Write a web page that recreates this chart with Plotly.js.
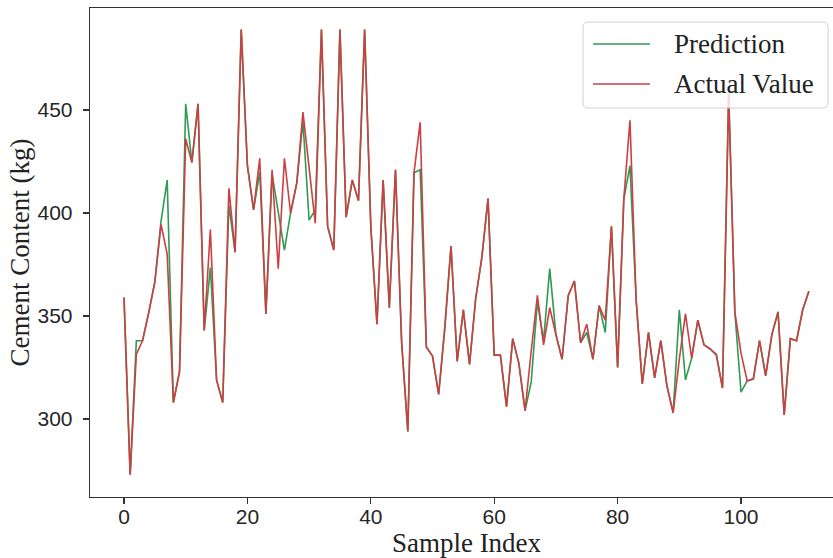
<!DOCTYPE html>
<html>
<head>
<meta charset="utf-8">
<script src="https://cdn.plot.ly/plotly-3.0.1.min.js"></script>
<style>
html,body{margin:0;padding:0;overflow:hidden;background:#fff;width:833px;height:558px;}
#chart{width:845px;height:558px;}
</style>
</head>
<body>
<div id="chart"></div>
<script>
const actualValue = [359,273,331.5,338,351.5,366.5,394.5,380,308,323,
  436,424.5,453,343,392,319,308,412,381,489,
  423,401.5,426.5,351,421,373,426.5,400,414.5,449,
  422,395,489,393.5,382,489,398,416,406,489,
  393.5,346,416,354,421,337,294,419.5,444,335,
  330.5,312,344.5,384,328,353,326.5,358.5,378.5,407,
  331,331,306,339,327,304,333,360,336,354,
  341,329,360,367,337,346,329,355,348,393.5,
  325,406.5,445,358,317,342,320,338,316,303,
  329,351,329.5,348,336,334,331,315,458,352,
  332,318.5,319.5,338,321,341,352,302,339,338,
  353,362];
const prediction = [359,273,338,338,351.5,366.5,396,416,308,323,
  453,424.5,453,343,373.5,319,308,404,381,489,
  423,401.5,420,351,419,401.5,382,400,414.5,444.5,
  396.5,401.5,489,393.5,382,489,398,416,406,489,
  393.5,346,416,354,421,337,294,419.5,421,335,
  330.5,312,344.5,384,328,353,326.5,358.5,378.5,407,
  331,331,306,339,327,304,318,357,338,373,
  341,329,360,367,337,342,329,355,342,393.5,
  325,406.5,423,358,317,342,320,338,316,303,
  353,319,329.5,348,336,334,331.5,315,458,352,
  313,318.5,319.5,338,321,341,352,302,339,338,
  353,362];
const sampleIndex = actualValue.map((_, i) => i);
const xTicks = [0,20,40,60,80,100];
const yTicks = [300,350,400,450];
const seriesNames = ["Prediction", "Actual Value"];
const seriesColors = ["#2f9a52", "#cc3f42"];

// plot area in pixels (div is 845 wide; window crops it at 833 like the reference)
const L = 90, R = 843, T = 8, B = 497;
const px = x => (x - L) / (R - L);
const py = y => (B - y) / (B - T);

function roundRect(x0, y0, x1, y1, r) {
  const p = [];
  p.push(`M${px(x0 + r)},${py(y0)}`);
  p.push(`L${px(x1 - r)},${py(y0)}`);
  p.push(`Q${px(x1)},${py(y0)} ${px(x1)},${py(y0 + r)}`);
  p.push(`L${px(x1)},${py(y1 - r)}`);
  p.push(`Q${px(x1)},${py(y1)} ${px(x1 - r)},${py(y1)}`);
  p.push(`L${px(x0 + r)},${py(y1)}`);
  p.push(`Q${px(x0)},${py(y1)} ${px(x0)},${py(y1 - r)}`);
  p.push(`L${px(x0)},${py(y0 + r)}`);
  p.push(`Q${px(x0)},${py(y0)} ${px(x0 + r)},${py(y0)}`);
  p.push('Z');
  return p.join(' ');
}

const traces = [
  {x: sampleIndex, y: prediction, type: 'scatter', mode: 'lines', name: seriesNames[0],
   line: {color: seriesColors[0], width: 1.6}},
  {x: sampleIndex, y: actualValue, type: 'scatter', mode: 'lines', name: seriesNames[1],
   line: {color: seriesColors[1], width: 1.6}}
];

const serif = 'Liberation Serif, Times New Roman, serif';
const sans = 'Liberation Sans, Arial, sans-serif';

const legendRows = [44, 84];
const shapes = [
  {type: 'path', xref: 'paper', yref: 'paper', path: roundRect(583, 22, 828, 108, 5),
   fillcolor: 'rgba(255,255,255,0.8)', line: {color: 'rgba(204,204,204,0.9)', width: 1}, layer: 'above'}
];
const annotations = [];
seriesNames.forEach((n, k) => {
  shapes.push({type: 'line', xref: 'paper', yref: 'paper', x0: px(593), x1: px(650),
    y0: py(legendRows[k]), y1: py(legendRows[k]), line: {color: seriesColors[k], width: 1.6}, layer: 'above'});
  annotations.push({xref: 'paper', yref: 'paper', x: px(672), y: py(legendRows[k]), text: n,
    showarrow: false, xanchor: 'left', yanchor: 'middle',
    font: {family: serif, size: 27, color: '#222'}});
});

const layout = {
  width: 845, height: 558,
  margin: {l: L, r: 845 - R, t: T, b: 558 - B, pad: 0},
  paper_bgcolor: '#fff', plot_bgcolor: '#fff',
  showlegend: false,
  xaxis: {
    range: [-5.51, 116.53], tickvals: xTicks, ticktext: xTicks.map(String),
    showgrid: false, zeroline: false, showline: true, mirror: true,
    linecolor: '#333', linewidth: 1.3, ticks: 'outside', ticklen: 6, tickwidth: 1.3, tickcolor: '#333',
    tickfont: {family: sans, size: 21, color: '#262626'},
    ticklabelstandoff: -6,
    title: {text: 'Sample Index', font: {family: serif, size: 27, color: '#222'}, standoff: 12},
    automargin: false
  },
  yaxis: {
    range: [262.14, 499.5], tickvals: yTicks, ticktext: yTicks.map(String),
    showgrid: false, zeroline: false, showline: true, mirror: true,
    linecolor: '#333', linewidth: 1.3, ticks: 'outside', ticklen: 6, tickwidth: 1.3, tickcolor: '#333',
    tickfont: {family: sans, size: 21, color: '#262626'},
    ticklabelstandoff: 6,
    title: {text: 'Cement Content (kg)', font: {family: serif, size: 27, color: '#222'}, standoff: 0},
    automargin: false
  },
  shapes: shapes,
  annotations: annotations
};

Plotly.newPlot('chart', traces, layout, {staticPlot: true, displayModeBar: false});
</script>
</body>
</html>
